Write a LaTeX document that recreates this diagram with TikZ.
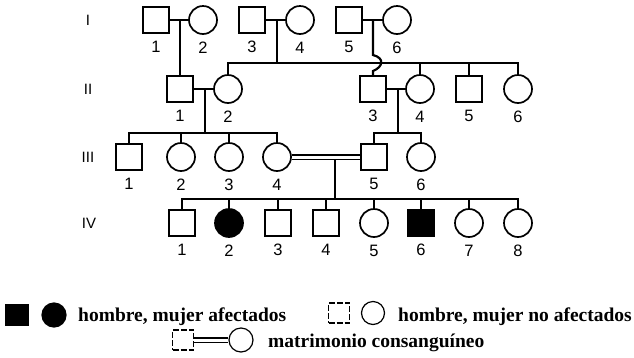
\documentclass[tikz,border=0pt]{standalone}
\usepackage{fontspec}
\setmainfont{Liberation Serif}
\setsansfont{Liberation Sans}
\usepackage{tikz}
\usetikzlibrary{calc}
\tikzstyle{male} = [rectangle, draw=black, line width=1.7pt, minimum size=26pt, inner sep=0pt]
\tikzstyle{female} = [circle, draw=black, line width=1.7pt, minimum size=28pt, inner sep=0pt]
\tikzstyle{affected} = [fill=black]
\tikzstyle{num} = [font=\sffamily\fontsize{16.5}{16.5}\selectfont, inner sep=0pt]
\tikzstyle{gen} = [font=\sffamily\fontsize{15}{15}\selectfont, inner sep=0pt]
\tikzstyle{line} = [line width=2.2pt]
\tikzstyle{consang} = [double=white, double distance=3pt, line width=1.6pt]
\tikzstyle{keymale} = [rectangle, draw=black, line width=1.2pt, minimum width=21pt, minimum height=20pt, inner sep=0pt]
\tikzstyle{keyfemale} = [circle, draw=black, line width=1.2pt, minimum size=23pt, inner sep=0pt]
\tikzstyle{keytext} = [font=\bfseries\fontsize{19.5}{20}\selectfont, inner sep=0pt, anchor=base west]

\begin{document}
\begin{tikzpicture}[x=1pt, y=-1pt, label distance=7pt]
        \useasboundingbox (0,0) rectangle (634,357);

        \node (g1) [gen] at (88,20) {I};
        \node (g2) [gen] at (88,89) {II};
        \node (g3) [gen] at (88,157) {III};
        \node (g4) [gen] at (89,223) {IV};

        \node (I1) [male, label={[num]below:1}] at (156,20) {};
        \node (I2) [female, label={[num]below:2}] at (203,20) {};
        \node (I3) [male, label={[num]below:3}] at (252,20) {};
        \node (I4) [female, label={[num]below:4}] at (300,20) {};
        \node (I5) [male, label={[num]below:5}] at (349,20) {};
        \node (I6) [female, label={[num]below:6}] at (397,20) {};

        \node (II1) [male, label={[num]below:1}] at (180,89) {};
        \node (II2) [female, label={[num]below:2}] at (228,89) {};
        \node (II3) [male, label={[num]below:3}] at (373,89) {};
        \node (II4) [female, label={[num]below:4}] at (420,89) {};
        \node (II5) [male, label={[num]below:5}] at (469,89) {};
        \node (II6) [female, label={[num]below:6}] at (518,89) {};

        \node (III1) [male, label={[num]below:1}] at (129,157) {};
        \node (III2) [female, label={[num]below:2}] at (181,157) {};
        \node (III3) [female, label={[num]below:3}] at (229,157) {};
        \node (III4) [female, label={[num]below:4}] at (277,157) {};
        \node (III5) [male, label={[num]below:5}] at (374,157) {};
        \node (III6) [female, label={[num]below:6}] at (421,157) {};

        \node (IV1) [male, label={[num]below:1}] at (182,223) {};
        \node (IV2) [female, affected, label={[num]below:2}] at (229,223) {};
        \node (IV3) [male, label={[num]below:3}] at (278,223) {};
        \node (IV4) [male, label={[num]below:4}] at (326,223) {};
        \node (IV5) [female, label={[num]below:5}] at (374,223) {};
        \node (IV6) [male, affected, label={[num]below:6}] at (421,223) {};
        \node (IV7) [female, label={[num]below:7}] at (469,223) {};
        \node (IV8) [female, label={[num]below:8}] at (518,223) {};

        \coordinate (m1) at (180,20);
        \coordinate (m2) at (277,20);
        \coordinate (s2) at (277,63);
        \coordinate (m3) at (373,20);
        \coordinate (m4) at (205,89);
        \coordinate (s3) at (205,133);
        \coordinate (m5) at (398,89);
        \coordinate (s4) at (398,133);
        \coordinate (m6) at (335,157);
        \coordinate (s5) at (335,199);

        \draw [line] (I1) -- (I2);
        \draw [line] (I3) -- (I4);
        \draw [line] (I5) -- (I6);
        \draw [line] (m1) -- (II1);
        \draw [line] (m2) -- (s2);
        \draw [line] (II2.north) |- (II6 |- s2) -- (II6.north);
        \foreach \n in {II4,II5} \draw [line] (\n |- s2) -- (\n);
        \draw [line] (m3) -- ($(m3 |- s2)+(0,-8)$) .. controls +(12,3) and +(10,-4) .. ($(m3 |- s2)+(0,8)$) -- (II3);

        \draw [line] (II1) -- (II2);
        \draw [line] (II3) -- (II4);
        \draw [line] (m4) -- (s3);
        \draw [line] (III1.north) |- (III4 |- s3) -- (III4.north);
        \foreach \n in {III2,III3} \draw [line] (\n |- s3) -- (\n);
        \draw [line] (m5) -- (s4);
        \draw [line] (III5.north) |- (III6 |- s4) -- (III6.north);

        \draw [line] (m6) -- (s5);
        \draw [consang] (III4) -- (III5);
        \draw [line] (IV1.north) |- (IV8 |- s5) -- (IV8.north);
        \foreach \n in {IV2,IV3,IV4,IV5,IV6,IV7} \draw [line] (\n |- s5) -- (\n);

        \node (kaff1) [keymale, fill=black, minimum width=23pt, minimum height=21pt] at (17,315) {};
        \node (kaff2) [keyfemale, fill=black, minimum size=24pt] at (54,315) {};
        \node (kafftext) [keytext] at (78,321) {hombre, mujer afectados};
        \node (kno1) [keymale, dash pattern=on 6pt off 2pt] at (339,313) {};
        \node (kno2) [keyfemale] at (373,313) {};
        \node (knotext) [keytext] at (398,321) {hombre, mujer no afectados};
        \node (kcon1) [keymale, dash pattern=on 6pt off 2pt] at (183,340) {};
        \node (kcon2) [keyfemale, minimum size=24pt] at (241,340) {};
        \draw [consang] (kcon1) -- (kcon2);
        \node (kcontext) [keytext] at (268,347) {matrimonio consanguíneo};
    \end{tikzpicture}
\end{document}
